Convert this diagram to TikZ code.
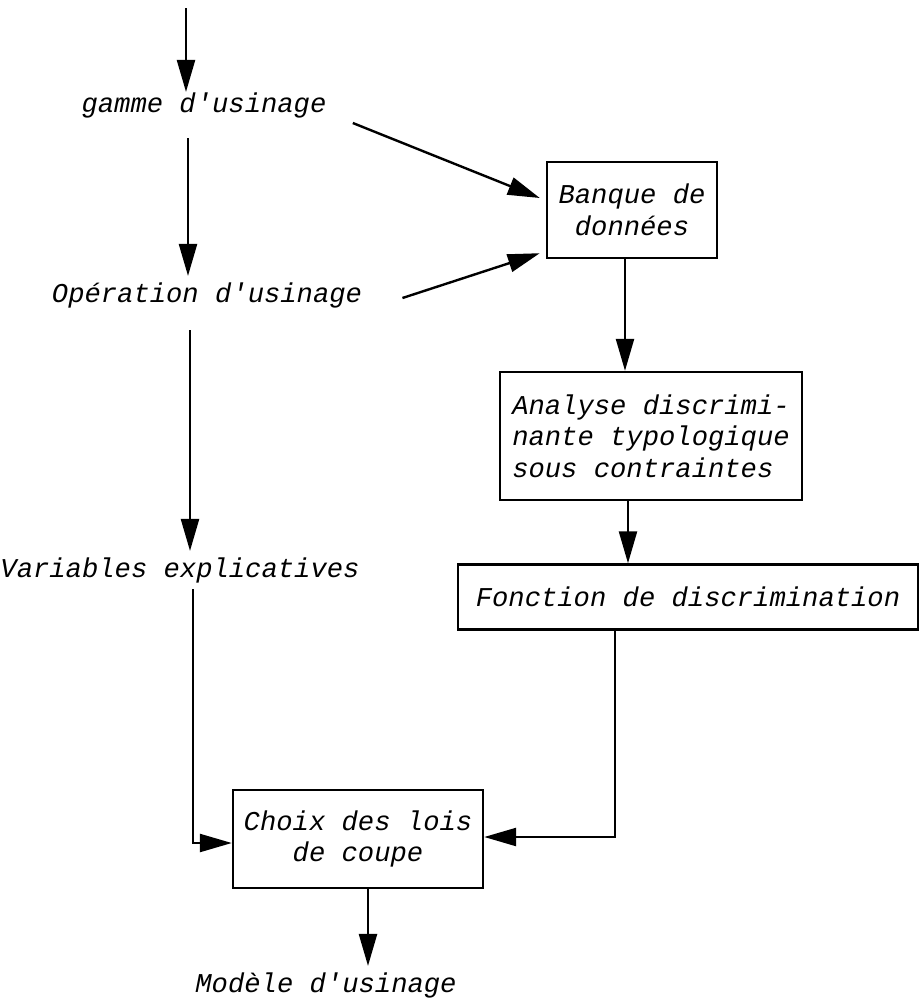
\documentclass[tikz,border=0pt]{standalone}
\usepackage{fontspec}
\setmonofont{Liberation Mono}
\usetikzlibrary{arrows.meta}

\begin{document}
\begin{tikzpicture}[x = .5pt, y = -.5pt,
		txt/.style = {font = \ttfamily\itshape\fontsize{13.6}{15.75}\selectfont, inner sep = 3pt},
		bloc/.style = {txt, draw, line width = 1.2pt, inner sep = 0pt},
		fl/.style = {line width = 1.2pt, arrows = {-Triangle[length = 16pt, width = 9pt]}}]
		\useasboundingbox (0, 0) rectangle (920, 998);

		\coordinate (top) at (186, 8);
		\node[txt] (gamme) at (204, 105) {gamme d'usinage};
		\node[txt] (oper) at (207, 295) {Opération d'usinage};
		\node[txt] (var) at (180, 570) {Variables explicatives};
		\node[txt] (modele) at (326, 985) {Modèle d'usinage};

		\node[bloc, align = center, minimum width = 85pt, minimum height = 48pt] (banque) at (632, 210) {Banque de\\données};
		\node[bloc, align = left, minimum width = 151pt, minimum height = 64pt] (analyse) at (651, 436) {Analyse discrimi-\\nante typologique\\sous contraintes};
		\node[bloc, minimum width = 230pt, minimum height = 32.5pt] (fonction) at (688, 597) {Fonction de discrimination};
		\node[bloc, align = center, minimum width = 125pt, minimum height = 49pt] (choix) at (358, 839) {Choix des lois\\de coupe};

		\draw[fl] (top) -- ([yshift = -3pt]top |- gamme.north);
		\draw[fl, shorten < = 7pt] ([xshift = -8pt]gamme.south) -- ([xshift = -8pt]gamme.south |- oper.north);
		\draw[fl, shorten < = 8pt] ([xshift = -8.5pt]oper.south) -- ([xshift = -8.5pt]oper.south |- var.north);
		\draw[fl] ([xshift = 6.5pt]var.south) |- ([yshift = -2pt]choix.west);
		\draw[fl] ([xshift = 5pt]choix.south) -- ([xshift = 5pt]choix.south |- modele.north);

		\draw[fl] ([shift = {(10pt, -9pt)}]gamme.east) -- ([shift = {(-3pt, 6pt)}]banque.west);
		\draw[fl] ([shift = {(17pt, -1.5pt)}]oper.east) -- ([shift = {(-3pt, 3pt)}]banque.south west);
		\draw[fl] ([xshift = -3.5pt]banque.south) -- ([xshift = -3.5pt]banque.south |- analyse.north);
		\draw[fl] ([xshift = -11.5pt]analyse.south) -- ([xshift = -11.5pt]analyse.south |- fonction.north);
		\draw[fl] ([xshift = -36.5pt]fonction.south) |- ([yshift = 1pt]choix.east);

	\end{tikzpicture}
\end{document}
